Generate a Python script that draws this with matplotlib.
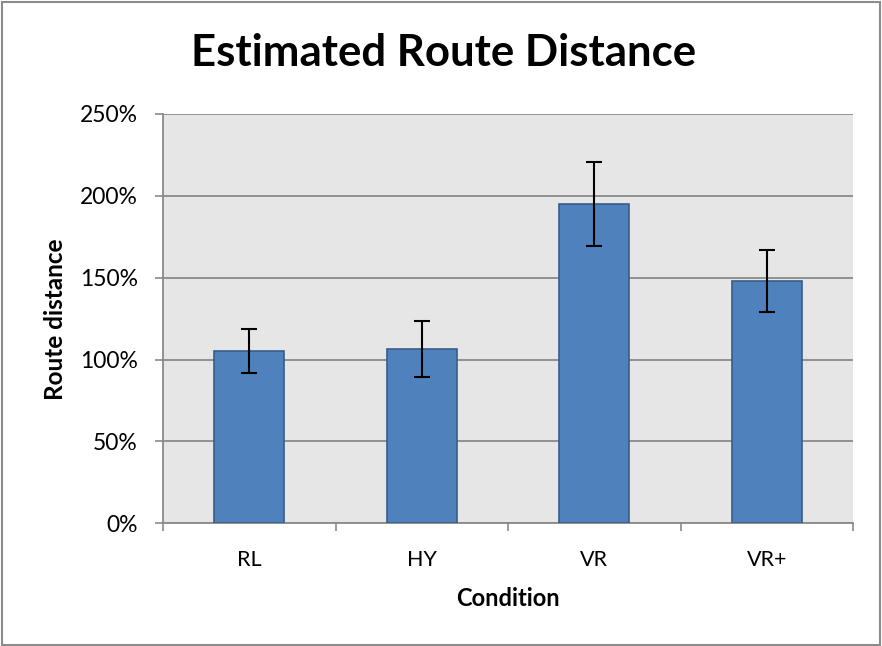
import matplotlib
matplotlib.use("Agg")
import matplotlib.pyplot as plt
from matplotlib.ticker import FuncFormatter, FixedLocator
from matplotlib.patches import Rectangle

categories = ["RL", "HY", "VR", "VR+"]
values = [105.3, 106.5, 195.2, 148.1]
errors = [13.3, 17.3, 25.6, 19.0]
y_ticks = [0, 50, 100, 150, 200, 250]

plt.rcParams['font.family'] = ['Lato', 'DejaVu Sans']

fig = plt.figure(figsize=(8.82, 6.46), dpi=100)
ax = fig.add_axes([163/882, (646-523.3)/646, (853-163)/882, (523.3-114)/646])
ax.set_facecolor('#e6e6e6')

x = list(range(len(categories)))
ax.bar(x, values, width=0.406, color='#4f81bd', edgecolor='#385d8a', linewidth=1.2, zorder=3)
ax.errorbar(x, values, yerr=errors, fmt='none', ecolor='black', elinewidth=1.5,
            capsize=6, capthick=1.5, zorder=4)

ax.set_xlim(-0.5, 3.5)
ax.set_ylim(0, 250)
ax.set_yticks(y_ticks)
ax.yaxis.set_major_formatter(FuncFormatter(lambda v, p: f"{int(v)}%"))
ax.grid(axis='y', color='#8a8a8a', linewidth=1.3, zorder=0)
ax.set_axisbelow(True)

ax.set_xticks(x)
ax.set_xticklabels(categories, fontsize=15.5)
ax.tick_params(axis='x', which='major', length=0, pad=19)
ax.xaxis.set_minor_locator(FixedLocator([-0.5, 0.5, 1.5, 2.5, 3.5]))
ax.tick_params(axis='x', which='minor', length=6, color='#8a8a8a', width=1.2)
ax.tick_params(axis='y', length=6, color='#8a8a8a', width=1.2, labelsize=16.5, pad=12)

for s in ['top', 'right']:
    ax.spines[s].set_visible(False)
ax.spines['left'].set_color('#8a8a8a')
ax.spines['left'].set_linewidth(1.3)
ax.spines['bottom'].set_color('#8a8a8a')
ax.spines['bottom'].set_linewidth(1.3)

fig.text(507.5/882, 1 - 599/646, "Condition", fontsize=17, fontweight='bold',
         ha='center', va='center')
fig.text(56/882, 1 - 319/646, "Route distance", fontsize=17.5, fontweight='bold',
         ha='center', va='center', rotation=90)
fig.text(443.5/882, 1 - 53/646, "Estimated Route Distance", fontsize=31.5, fontweight='bold',
         ha='center', va='center')

fig.patches.append(Rectangle((0.002, 0.001), 0.996, 0.996, transform=fig.transFigure,
                             fill=False, edgecolor='#8c8c8c', linewidth=1.5))

fig.savefig("out.png", dpi=100)
